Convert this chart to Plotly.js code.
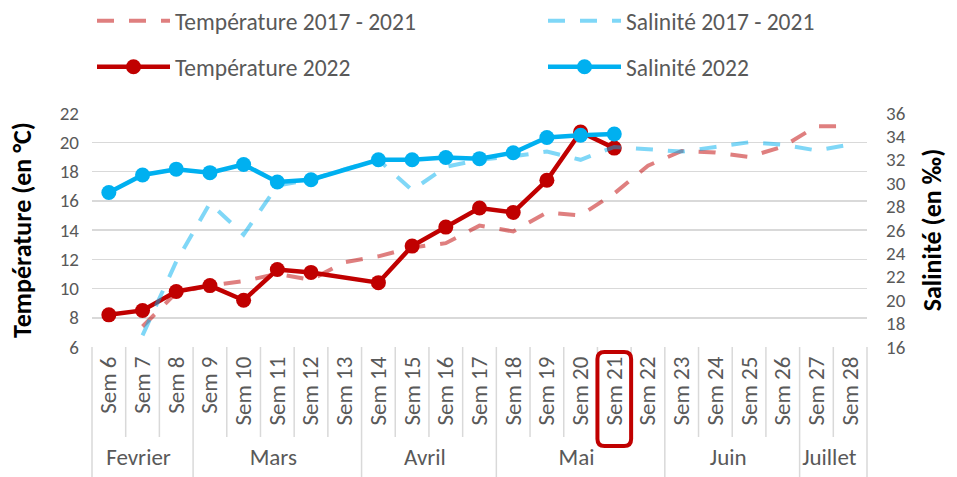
<!DOCTYPE html>
<html><head><meta charset="utf-8">
<script src="https://cdn.plot.ly/plotly-3.0.1.min.js"></script>
<style>html,body{margin:0;padding:0;background:#fff}#chart{width:957px;height:477px}</style>
</head><body><div id="chart"></div>
<script>
const weeks = ["Sem 6","Sem 7","Sem 8","Sem 9","Sem 10","Sem 11","Sem 12","Sem 13","Sem 14","Sem 15","Sem 16","Sem 17","Sem 18","Sem 19","Sem 20","Sem 21","Sem 22","Sem 23","Sem 24","Sem 25","Sem 26","Sem 27","Sem 28"];
const months = ["Fevrier","Fevrier","Fevrier","Mars","Mars","Mars","Mars","Mars","Avril","Avril","Avril","Avril","Mai","Mai","Mai","Mai","Mai","Juin","Juin","Juin","Juin","Juillet","Juillet"];
const temp1721 = [null,7.4,9.7,10.2,10.5,11.0,10.6,11.8,12.2,12.8,13.1,14.3,13.9,15.2,15.0,16.5,18.4,19.4,19.3,19.0,19.7,21.1,21.1];
const sal1721  = [null,17.0,23.3,28.3,25.6,29.8,30.3,31.2,32.0,29.4,31.4,32.0,32.3,32.7,32.0,33.1,32.9,32.7,33.1,33.5,33.3,32.8,33.3];
const temp2022 = [8.2,8.5,9.8,10.2,9.2,11.3,11.1,null,10.4,12.9,14.2,15.5,15.2,17.4,20.7,19.6,null,null,null,null,null,null,null];
const sal2022  = [29.2,30.7,31.2,30.9,31.6,30.1,30.3,null,32.0,32.0,32.2,32.1,32.6,33.9,34.1,34.2,null,null,null,null,null,null,null];
const highlightWeek = "Sem 21";

const FONT = "Calibri, Carlito, Lato, sans-serif";
const GRAY = "#595959";
const GRID = "#d9d9d9";
const x = [months, weeks];

const traces = [
  {name:"Température 2017 - 2021", x:x, y:temp1721, type:"scatter", mode:"lines", yaxis:"y",
   line:{color:"rgba(192,0,0,0.5)", width:4, dash:"17px,15px"}, connectgaps:true, legend:"legend"},
  {name:"Température 2022", x:x, y:temp2022, type:"scatter", mode:"lines+markers", yaxis:"y",
   line:{color:"#C00000", width:4.5}, marker:{color:"#C00000", size:15}, connectgaps:true, legend:"legend3"},
  {name:"Salinité 2017 - 2021", x:x, y:sal1721, type:"scatter", mode:"lines", yaxis:"y2",
   line:{color:"rgba(0,176,240,0.5)", width:4, dash:"17px,15px"}, connectgaps:true, legend:"legend2"},
  {name:"Salinité 2022", x:x, y:sal2022, type:"scatter", mode:"lines+markers", yaxis:"y2",
   line:{color:"#00B0F0", width:4.5}, marker:{color:"#00B0F0", size:15}, connectgaps:true, legend:"legend4"}
];

const W = 957, H = 477, ML = 92, MR = 90, MT = 113, MB = 130;
const PW = W - ML - MR, PH = H - MT - MB;
const n = weeks.length;
const shapes = [];
const pyToPaper = py => -(py - (H - MB)) / PH;
for (let i = 0; i <= n; i++) {
  const isMonthEdge = (i === 0 || i === n || months[i] !== months[i-1]);
  shapes.push({type:"line", xref:"paper", yref:"paper", x0:i/n, x1:i/n, y0:0,
    y1: isMonthEdge ? pyToPaper(H) : pyToPaper(437), line:{color:GRID, width:1.5}, layer:"below"});
}
const hi = weeks.indexOf(highlightWeek);
(function(){
  const x0 = hi/n, x1 = (hi+1)/n, yT = pyToPaper(352), yB = pyToPaper(446);
  const rx = 7/PW, ry = 7/PH;
  const p = `M ${x0+rx},${yT} L ${x1-rx},${yT} Q ${x1},${yT} ${x1},${yT-ry} L ${x1},${yB+ry} Q ${x1},${yB} ${x1-rx},${yB} L ${x0+rx},${yB} Q ${x0},${yB} ${x0},${yB+ry} L ${x0},${yT-ry} Q ${x0},${yT} ${x0+rx},${yT} Z`;
  shapes.push({type:"path", xref:"paper", yref:"paper", path:p, line:{color:"#C00000", width:4}, layer:"above"});
})();

const lg = (px, py) => ({orientation:"h", xref:"container", yref:"container", xanchor:"left", yanchor:"middle",
  x:px/W, y:1-py/H, font:{family:FONT, size:23.5, color:GRAY}, itemwidth:73, bgcolor:"rgba(0,0,0,0)"});

const layout = {
  width:W, height:H, paper_bgcolor:"#fff", plot_bgcolor:"#fff",
  margin:{l:ML, r:MR, t:MT, b:MB, pad:0},
  font:{family:FONT, color:GRAY},
  showlegend:true,
  legend: lg(92, 21), legend2: lg(543, 21), legend3: lg(92, 67), legend4: lg(543, 67),
  xaxis:{type:"multicategory", range:[-0.5, n-0.5], tickangle:-90, ticks:"", showdividers:false, showgrid:false, zeroline:false,
    showline:false, tickfont:{family:FONT, size:23, color:GRAY}, ticklabelstandoff:4},
  yaxis:{range:[6,22], dtick:2, tick0:6, showgrid:true, gridcolor:GRID, gridwidth:1.5, zeroline:false,
    ticks:"", tickfont:{family:FONT, size:19, color:GRAY}, ticklabelstandoff:12,
    title:{text:"Température (en °C)", font:{family:FONT, size:26, color:"#000", weight:"bold"}, standoff:20}},
  yaxis2:{range:[16,36], dtick:2, tick0:16, overlaying:"y", side:"right", showgrid:false, zeroline:false,
    ticks:"", tickfont:{family:FONT, size:19, color:GRAY}, ticklabelstandoff:18,
    title:{text:"Salinité (en ‰)", font:{family:FONT, size:26, color:"#000", weight:"bold"}, standoff:18}},
  shapes:shapes
};

Plotly.newPlot("chart", traces, layout, {displayModeBar:false, staticPlot:true});
</script>
</body></html>
